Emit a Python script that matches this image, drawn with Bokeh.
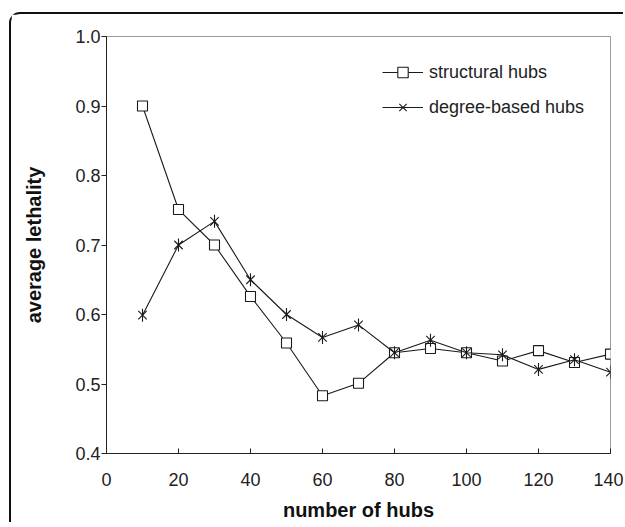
from bokeh.plotting import figure
from bokeh.models import Legend, LegendItem, FixedTicker, PrintfTickFormatter
from bokeh.embed import file_html
from bokeh.resources import INLINE

hubs = [10, 20, 30, 40, 50, 60, 70, 80, 90, 100, 110, 120, 130, 140]
structural = [0.900, 0.751, 0.700, 0.626, 0.559, 0.483, 0.501, 0.545, 0.551, 0.545, 0.533, 0.548, 0.531, 0.543]
degree_based = [0.599, 0.700, 0.734, 0.650, 0.600, 0.567, 0.585, 0.545, 0.563, 0.545, 0.542, 0.521, 0.535, 0.517]
x_ticks = [0, 20, 40, 60, 80, 100, 120, 140]
y_ticks = [0.4, 0.5, 0.6, 0.7, 0.8, 0.9, 1.0]

FONT = "Liberation Sans"

p = figure(width=614, height=510, x_range=(0, 140), y_range=(0.4, 1.0),
           output_backend="svg", toolbar_location=None,
           min_border_left=95, min_border_right=15, min_border_top=22, min_border_bottom=71)
p.margin = (12, 0, 0, 9)
p.styles = {"border-left": "2px solid #111", "border-top": "2px solid #111",
            "border-top-left-radius": "11px"}

p.xgrid.visible = False
p.ygrid.visible = False
p.outline_line_color = "#9a9a9a"
p.outline_line_width = 1
p.background_fill_color = "white"
p.border_fill_color = "white"

p.xaxis.ticker = FixedTicker(ticks=x_ticks)
p.yaxis.ticker = FixedTicker(ticks=y_ticks)
p.yaxis.formatter = PrintfTickFormatter(format="%.1f")
for ax in (p.xaxis, p.yaxis):
    ax.axis_line_color = "#222222"
    ax.major_tick_line_color = "#222222"
    ax.minor_tick_line_color = None
    ax.major_label_text_font = FONT
    ax.major_label_text_font_size = "18px"
    ax.major_label_text_color = "#222222"
    ax.axis_label_text_font = FONT
    ax.axis_label_text_font_size = "20px"
    ax.axis_label_text_font_style = "bold"
    ax.axis_label_text_color = "#111111"
p.xaxis.major_tick_in = 5
p.xaxis.major_tick_out = 0
p.yaxis.major_tick_in = 0
p.yaxis.major_tick_out = 5
p.xaxis.major_label_standoff = 19
p.yaxis.major_label_standoff = 1
p.xaxis.axis_label = "number of hubs"
p.yaxis.axis_label = "average lethality"
p.xaxis.axis_label_standoff = 10
p.yaxis.axis_label_standoff = 27

l1 = p.line(hubs, structural, line_color="#1a1a1a", line_width=1.1)
s1 = p.scatter(hubs, structural, marker="square", size=10, line_color="#1a1a1a",
               fill_color="white", line_width=1.1)
l2 = p.line(hubs, degree_based, line_color="#1a1a1a", line_width=1.1)
s2a = p.scatter(hubs, degree_based, marker="x", size=12, line_color="#1a1a1a", line_width=1.1)
s2b = p.scatter(hubs, degree_based, marker="dash", angle=1.5708, size=13,
                line_color="#1a1a1a", line_width=1.1)

legend = Legend(items=[LegendItem(label="structural hubs", renderers=[l1, s1]),
                       LegendItem(label="degree-based hubs", renderers=[l2, s2a, s2b])],
                location=(276, 333), orientation="vertical",
                glyph_width=41, glyph_height=26, label_height=20, spacing=9,
                label_standoff=6, padding=0, margin=0,
                border_line_color=None, background_fill_alpha=0,
                label_text_font=FONT, label_text_font_size="18px", label_text_color="#222222")
p.add_layout(legend)

open("out.html", "w").write(file_html(p, INLINE))
